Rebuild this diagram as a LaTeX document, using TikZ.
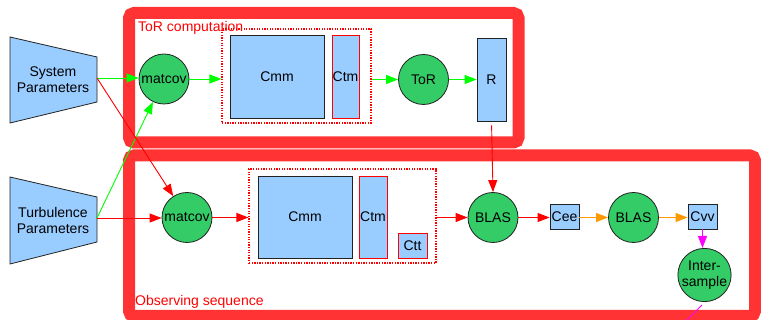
\documentclass[tikz,border=0pt]{standalone}
\usepackage{fontspec}
\setmainfont{Liberation Sans}
\usetikzlibrary{arrows.meta}
\definecolor{framered}{HTML}{FF3333}
\definecolor{lblue}{HTML}{99CCFF}
\definecolor{cgreen}{HTML}{33CC66}
\definecolor{lgreen}{HTML}{00FF00}
\definecolor{lred}{HTML}{FF0000}
\definecolor{lorange}{HTML}{FF9900}
\definecolor{lmag}{HTML}{FF00FF}
\definecolor{bord}{HTML}{222222}
\begin{document}
\begin{tikzpicture}[x=1pt,y=-1pt,
  font=\fontsize{14}{16}\selectfont,
  frame/.style={draw=framered, line width=12pt, rounded corners=5pt},
  blk/.style={draw=bord, fill=lblue, line width=0.8pt, inner sep=0pt},
  rblk/.style={draw=lred, fill=lblue, line width=0.8pt, inner sep=0pt},
  proc/.style={circle, draw=bord, fill=cgreen, line width=0.8pt, inner sep=0pt, minimum size=50pt, align=center},
  grp/.style={draw=lred, dash pattern=on 1.3pt off 1.3pt, line width=1.1pt, inner sep=0pt},
  conn/.style={line width=0.9pt, -{Triangle[length=12pt,width=9pt]}},
  lab/.style={text=lred, inner sep=0pt, anchor=base west}]
\useasboundingbox (0,0) rectangle (761,320);
\clip (0,0) rectangle (761,320);

% frames
\draw[frame] (129,13) rectangle (518.5,142.5);
\draw[frame] (129,155.5) rectangle (755,316);
\node[lab] (torlab) at (138,32) {ToR computation};
\node[lab] (obslab) at (135,306) {Observing sequence};

% parameter trapezia
\draw[blk] (10,37) -- (97,57) -- (97,102) -- (10,123) -- cycle;
\node[align=center, inner sep=0pt] (sp) at (53,80) {System\\Parameters};
\coordinate (spE) at (97,78);
\draw[blk] (10,177) -- (97,197) -- (97,242) -- (10,264) -- cycle;
\node[align=center, inner sep=0pt] (tp) at (53,220) {Turbulence\\Parameters};
\coordinate (tpE) at (97,218);

% top row
\node[proc] (mc1) at (164,79) {matcov};
\node[grp, minimum width=149pt, minimum height=94pt] (g1) at (296.5,76) {};
\node[blk, minimum width=94pt, minimum height=83pt] (cmm1) at (277,76.5) {Cmm};
\node[rblk, minimum width=27pt, minimum height=83pt] (ctm1) at (345.5,76.5) {Ctm};
\node[proc] (tor) at (423.5,79.5) {ToR};
\node[blk, minimum width=29pt, minimum height=83pt] (R) at (491.5,79.5) {R};

% bottom row
\node[proc] (mc2) at (187,217.5) {matcov};
\node[grp, minimum width=187pt, minimum height=94pt] (g2) at (342.5,216) {};
\node[blk, minimum width=94pt, minimum height=82pt] (cmm2) at (305,217) {Cmm};
\node[rblk, minimum width=28pt, minimum height=82pt] (ctm2) at (373,217) {Ctm};
\node[rblk, minimum width=29pt, minimum height=25pt] (ctt) at (412.5,245.5) {Ctt};
\node[proc] (blas1) at (493,217.5) {BLAS};
\node[blk, minimum width=29pt, minimum height=25pt] (cee) at (564.5,216.5) {Cee};
\node[proc] (blas2) at (633.5,217.5) {BLAS};
\node[blk, minimum width=29pt, minimum height=25pt] (cvv) at (702.5,216.5) {Cvv};
\node[proc] (inter) at (704.5,275) {Inter-\\sample};
\coordinate (o1) at (702,305);
\coordinate (o2) at (680,327);

% connectors
\draw[conn, lgreen] (spE) -- (spE -| mc1.west);
\draw[conn, lgreen] (mc1.east) -- (mc1.east -| g1.west);
\draw[conn, lgreen] (g1.east |- tor.west) -- (tor.west);
\draw[conn, lgreen] (tor.east) -- (R.west |- tor.east);
\draw[conn, lgreen] (tpE) -- (mc1);
\draw[conn, lred] (spE) -- (mc2);
\draw[conn, lred] (tpE) -- (tpE -| mc2.west);
\draw[conn, lred] (mc2.east) -- (mc2.east -| g2.west);
\draw[conn, lred] (g2.east |- blas1.west) -- (blas1.west);
\draw[conn, lred, shorten <=4pt] (R.south) -- (blas1.north);
\draw[conn, lred] (blas1.east) -- (cee.west |- blas1.east);
\draw[conn, lorange] (cee.east |- blas2.west) -- (blas2.west);
\draw[conn, lorange] (blas2.east) -- (cvv.west |- blas2.east);
\draw[conn, lmag] (cvv.south) -- (cvv.south |- inter.north);
\draw[line width=0.9pt, lmag] (o1) -- (o2);
\end{tikzpicture}
\end{document}
